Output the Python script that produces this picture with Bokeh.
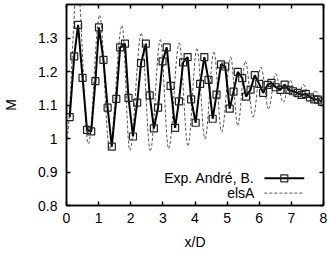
from bokeh.plotting import figure
from bokeh.models import LinearAxis, FixedTicker, NumeralTickFormatter, Label, CustomJSTickFormatter
from bokeh.embed import file_html
from bokeh.resources import INLINE

# Experimental Mach number along the jet axis (square markers)
exp_x = [0.10, 0.24, 0.36, 0.50, 0.64, 0.77, 0.90, 1.01, 1.15, 1.28,
         1.41, 1.55, 1.67, 1.82, 1.93, 2.07, 2.20, 2.32, 2.47, 2.59,
         2.72, 2.85, 2.99, 3.12, 3.24, 3.38, 3.50, 3.63, 3.77, 3.88,
         4.02, 4.16, 4.29, 4.42, 4.55, 4.67, 4.81, 4.94, 5.08, 5.20,
         5.33, 5.47, 5.59, 5.73, 5.86, 6.00, 6.12, 6.26, 6.38, 6.51,
         6.66, 6.79, 6.91, 7.05, 7.19, 7.32, 7.45, 7.58, 7.71, 7.83,
         7.95]
exp_m = [1.064, 1.245, 1.339, 1.181, 1.026, 1.021, 1.171, 1.332, 1.235, 1.092,
         0.976, 1.118, 1.272, 1.283, 1.121, 1.006, 1.107, 1.225, 1.283, 1.129,
         1.030, 1.092, 1.230, 1.272, 1.157, 1.032, 1.111, 1.227, 1.243, 1.117,
         1.047, 1.163, 1.243, 1.175, 1.059, 1.131, 1.221, 1.215, 1.089, 1.140,
         1.199, 1.180, 1.125, 1.146, 1.189, 1.163, 1.136, 1.160, 1.166, 1.153,
         1.145, 1.161, 1.145, 1.141, 1.136, 1.130, 1.133, 1.123, 1.117, 1.116,
         1.110]

# elsA computation: successive maxima / minima of the shock-cell oscillation
els_x = [0.00, 0.34, 0.68, 1.03, 1.34, 1.73, 1.97, 2.33, 2.61, 2.92,
         3.18, 3.51, 3.78, 4.06, 4.31, 4.59, 4.83, 5.11, 5.33, 5.57,
         5.81, 6.05, 6.29, 6.51, 6.74, 6.97, 7.18, 7.38, 7.56, 7.74,
         8.00]
els_m = [1.000, 1.460, 0.984, 1.367, 0.969, 1.337, 0.964, 1.313, 0.964, 1.295,
         0.970, 1.285, 0.979, 1.268, 0.999, 1.258, 1.019, 1.243, 1.039, 1.230,
         1.064, 1.213, 1.089, 1.193, 1.108, 1.173, 1.118, 1.161, 1.125, 1.141,
         1.115]

x_ticks = [0, 1, 2, 3, 4, 5, 6, 7, 8]
y_ticks = [0.8, 0.9, 1.0, 1.1, 1.2, 1.3]

FONT = "Liberation Sans"

p = figure(width=327, height=255, x_range=(0, 8), y_range=(0.8, 1.4),
           output_backend="svg", toolbar_location=None,
           min_border_left=64, min_border_right=4, min_border_top=4,
           min_border_bottom=50)
p.grid.visible = False
p.outline_line_color = "black"
p.outline_line_width = 1.5
p.background_fill_color = "white"
p.border_fill_color = "white"

for ax in p.xaxis:
    ax.ticker = FixedTicker(ticks=x_ticks)
    ax.axis_label = "x/D"
    ax.major_label_standoff = 7
    ax.axis_label_standoff = 8
for ax in p.yaxis:
    ax.ticker = FixedTicker(ticks=y_ticks)
    ax.formatter = NumeralTickFormatter(format="0.[0]")
    ax.axis_label = "M"
    ax.major_label_standoff = 9
    ax.axis_label_standoff = 16

# mirrored tick marks (no labels) on the top and right edges
blank = CustomJSTickFormatter(code="return ''")
p.add_layout(LinearAxis(ticker=FixedTicker(ticks=x_ticks), formatter=blank,
                        major_label_standoff=0), "above")
p.add_layout(LinearAxis(ticker=FixedTicker(ticks=y_ticks), formatter=blank,
                        major_label_standoff=0), "right")

for ax in p.axis:
    ax.major_tick_in = 4
    ax.major_tick_out = 0
    ax.minor_tick_line_color = None
    ax.axis_line_width = 1.5
    ax.major_tick_line_width = 1.5
    ax.major_tick_line_color = "black"
    ax.axis_line_color = "black"
    ax.major_label_text_font = FONT
    ax.major_label_text_color = "black"
    ax.major_label_text_font_size = "14px"
    ax.axis_label_text_font = FONT
    ax.axis_label_text_font_style = "normal"
    ax.axis_label_text_color = "black"
    ax.axis_label_text_font_size = "14px"

# elsA curve: smooth half-waves between consecutive extrema
k = 0.364
x0, y0 = els_x[:-1], els_m[:-1]
x1, y1 = els_x[1:], els_m[1:]
cx0 = [a + k * (b - a) for a, b in zip(x0, x1)]
cx1 = [b - k * (b - a) for a, b in zip(x0, x1)]
p.bezier(x0=x0, y0=y0, x1=x1, y1=y1, cx0=cx0, cy0=y0, cx1=cx1, cy1=y1,
         line_color="#555555", line_width=1, line_dash="3 2")

# experiment
p.line(exp_x, exp_m, line_color="black", line_width=2)
p.scatter(exp_x, exp_m, marker="square", size=7, line_color="#222222",
          line_width=1.2, fill_color=None)

# key, drawn gnuplot-style (text right-aligned, sample on the right)
leg_x_text = 5.85
leg_y = [0.881, 0.837]
leg_labels = ["Exp. André, B.", "elsA"]
for yy, txt in zip(leg_y, leg_labels):
    p.add_layout(Label(x=leg_x_text, y=yy, text=txt, text_align="right",
                       text_baseline="middle", text_font=FONT,
                       text_font_size="14px", text_color="black"))
p.line([6.16, 7.40], [leg_y[0], leg_y[0]], line_color="black", line_width=2)
p.scatter([6.78], [leg_y[0]], marker="square", size=7, line_color="#222222",
          line_width=1.2, fill_color=None)
p.line([6.16, 7.40], [leg_y[1], leg_y[1]], line_color="#555555",
       line_width=1, line_dash="3 2")

open("out.html", "w").write(file_html(p, INLINE))
